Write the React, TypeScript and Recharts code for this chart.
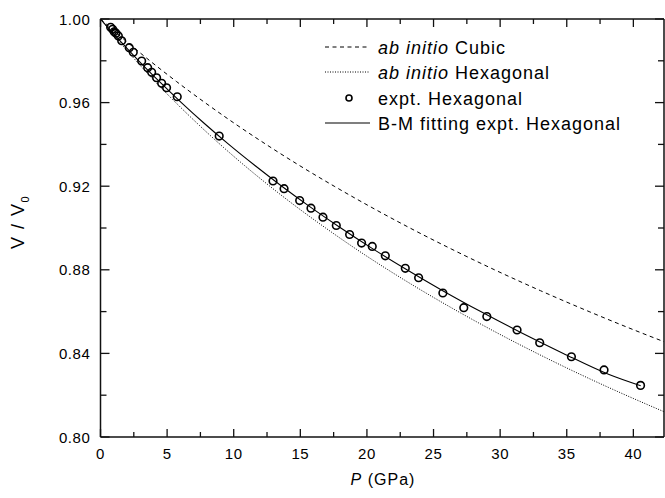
import React from "react";
import { ComposedChart, Line, XAxis, YAxis, ReferenceLine } from "recharts";

// ---- data (P in GPa, V/V0) ----
const cubicP = [0, 1.81, 3.71, 5.72, 7.84, 10.07, 12.43, 14.91, 17.54, 20.31, 23.23, 26.32, 29.58, 33.03, 36.68, 40.53, 42.3];
const cubicV = [1.0, 0.99, 0.98, 0.97, 0.96, 0.95, 0.94, 0.93, 0.92, 0.91, 0.9, 0.89, 0.88, 0.87, 0.86, 0.85, 0.8456];

const hexP = [0, 1.3, 2.67, 4.11, 5.65, 7.27, 8.98, 10.79, 12.71, 14.74, 16.9, 19.17, 21.58, 24.14, 26.85, 29.72, 32.77, 36.0, 39.44, 42.3];
const hexV = [1.0, 0.99, 0.98, 0.97, 0.96, 0.95, 0.94, 0.93, 0.92, 0.91, 0.9, 0.89, 0.88, 0.87, 0.86, 0.85, 0.84, 0.83, 0.82, 0.8121];

const exptP = [0.76, 0.91, 1.03, 1.16, 1.34, 1.59, 2.16, 2.46, 3.09, 3.54, 3.84, 4.21, 4.59, 4.96, 5.76, 8.91, 12.95, 13.78, 14.95, 15.8, 16.7, 17.7, 18.7, 19.6, 20.4, 21.38, 22.88, 23.88, 25.7, 27.27, 29.0, 31.27, 32.97, 35.35, 37.8, 40.54];
const exptV = [0.996, 0.9951, 0.9939, 0.9932, 0.9919, 0.9896, 0.9863, 0.9841, 0.9799, 0.9767, 0.9745, 0.9719, 0.9692, 0.9671, 0.9628, 0.944, 0.9225, 0.9188, 0.9131, 0.9095, 0.9052, 0.9012, 0.8969, 0.8928, 0.8912, 0.8867, 0.8807, 0.8762, 0.8689, 0.8619, 0.8576, 0.8512, 0.8451, 0.8384, 0.8321, 0.8247];

const fitP = [0, 1.4, 2.87, 4.43, 6.07, 7.8, 9.63, 11.57, 13.61, 15.76, 18.04, 20.45, 23.0, 25.69, 28.54, 31.55, 34.74, 38.13, 40.55];
const fitV = [1.0, 0.99, 0.98, 0.97, 0.96, 0.95, 0.94, 0.93, 0.92, 0.91, 0.9, 0.89, 0.88, 0.87, 0.86, 0.85, 0.84, 0.83, 0.8245];

const xTicks = [0, 2.5, 5, 7.5, 10, 12.5, 15, 17.5, 20, 22.5, 25, 27.5, 30, 32.5, 35, 37.5, 40];
const yTicks = [0.8, 0.82, 0.84, 0.86, 0.88, 0.9, 0.92, 0.94, 0.96, 0.98, 1.0];
const xDomain = [0, 42.3];
const yDomain = [0.8, 1.0];

const legendLabels = ["ab initio Cubic", "ab initio Hexagonal", "expt. Hexagonal", "B-M fitting expt. Hexagonal"];

const zip = (ps: number[], vs: number[]) => ps.map((p, i) => ({ p, v: vs[i] }));
const cubicData = zip(cubicP, cubicV);
const hexData = zip(hexP, hexV);
const exptData = zip(exptP, exptV);
const fitData = zip(fitP, fitV);

// inward tick lengths for the top / right edges, in data units
const PLOT_W = 563.5;
const PLOT_H = 418;
const xPerPx = (xDomain[1] - xDomain[0]) / PLOT_W;
const yPerPx = (yDomain[1] - yDomain[0]) / PLOT_H;

const FONT = "'Liberation Sans', Arial, Helvetica, sans-serif";
const INK = "#111111";
const isMajorX = (v: number) => Math.abs(v % 5) < 1e-6;
const isMajorY = (v: number) => Math.round(v * 100) % 4 === 0;
const TW = 1.3;

const BottomTick = (props: any) => {
  const { x, y, payload } = props;
  const major = isMajorX(payload.value);
  return (
    <g>
      <line x1={x} y1={y} x2={x} y2={y - (major ? 8 : 5)} stroke={INK} strokeWidth={TW} />
      {major && (
        <text x={x} y={y + 22} textAnchor="middle" fontFamily={FONT} fontSize={15} letterSpacing={0.6} fill="#000">
          {payload.value}
        </text>
      )}
    </g>
  );
};
const LeftTick = (props: any) => {
  const { x, y, payload } = props;
  const major = isMajorY(payload.value);
  return (
    <g>
      <line x1={x} y1={y} x2={x + (major ? 9 : 6)} y2={y} stroke={INK} strokeWidth={TW} />
      {major && (
        <text x={x - 10} y={y + 5.5} textAnchor="end" fontFamily={FONT} fontSize={15} letterSpacing={0.6} fill="#000">
          {payload.value.toFixed(2)}
        </text>
      )}
    </g>
  );
};

const CircleDot = (props: any) => {
  const { cx, cy } = props;
  if (cx == null || cy == null) return <g />;
  return <circle cx={cx} cy={cy} r={3.8} fill="none" stroke="#000" strokeWidth={1.6} />;
};

const LegendBox = () => {
  const rows = [17, 42, 68, 93];
  const textStyle = { fontFamily: FONT, fontSize: 18, letterSpacing: 1, fill: "#000" } as any;
  return (
    <svg width={320} height={110} style={{ overflow: "visible", display: "block" }}>
      <line x1={10} x2={55} y1={rows[0]} y2={rows[0]} stroke="#000" strokeWidth={1} strokeDasharray="4 3.5" />
      <text x={63} y={rows[0] + 6.5} {...textStyle}>
        <tspan fontStyle="italic">ab initio</tspan> Cubic
      </text>
      <line x1={10} x2={55} y1={rows[1]} y2={rows[1]} stroke="#000" strokeWidth={1} strokeDasharray="1 1.5" />
      <text x={63} y={rows[1] + 6.5} {...textStyle}>
        <tspan fontStyle="italic">ab initio</tspan> Hexagonal
      </text>
      <circle cx={34} cy={rows[2]} r={3} fill="none" stroke="#000" strokeWidth={1.6} />
      <text x={63} y={rows[2] + 6.5} {...textStyle}>
        {legendLabels[2]}
      </text>
      <line x1={10} x2={55} y1={rows[3]} y2={rows[3]} stroke="#000" strokeWidth={1.2} />
      <text x={63} y={rows[3] + 6.5} {...textStyle}>
        {legendLabels[3]}
      </text>
    </svg>
  );
};

const axisLineStyle = { stroke: INK, strokeWidth: 1.5 };

export default function App() {
  return (
    <div style={{ position: "relative", width: 665, height: 498, background: "#fff" }}>
      <style>{`body{margin:0;background:#fff}`}</style>
      <ComposedChart width={665} height={498} margin={{ top: 19, right: 1, bottom: 0, left: 0 }}>
        <XAxis xAxisId="b" type="number" dataKey="p" domain={xDomain} ticks={xTicks} height={61}
          tickSize={0} tickMargin={0} tickLine={false} tick={<BottomTick />} axisLine={axisLineStyle} stroke={INK} />
        <YAxis yAxisId="l" type="number" domain={yDomain} ticks={yTicks} width={100.5}
          tickSize={0} tickMargin={0} tickLine={false} tick={<LeftTick />} axisLine={axisLineStyle} stroke={INK} />
        <ReferenceLine xAxisId="b" yAxisId="l" y={yDomain[1]} stroke={INK} strokeWidth={1.5} />
        <ReferenceLine xAxisId="b" yAxisId="l" x={xDomain[1]} stroke={INK} strokeWidth={1.5} />
        {xTicks.map((p) => (
          <ReferenceLine key={"tt" + p} xAxisId="b" yAxisId="l" stroke={INK} strokeWidth={TW}
            segment={[{ x: p, y: yDomain[1] }, { x: p, y: yDomain[1] - (isMajorX(p) ? 8 : 5) * yPerPx }]} />
        ))}
        {yTicks.map((v) => (
          <ReferenceLine key={"rt" + v} xAxisId="b" yAxisId="l" stroke={INK} strokeWidth={TW}
            segment={[{ x: xDomain[1], y: v }, { x: xDomain[1] - (isMajorY(v) ? 9 : 6) * xPerPx, y: v }]} />
        ))}
        <Line xAxisId="b" yAxisId="l" data={cubicData} dataKey="v" type="monotone" stroke="#000" strokeWidth={1} strokeDasharray="4 3.5" dot={false} activeDot={false} isAnimationActive={false} name={legendLabels[0]} />
        <Line xAxisId="b" yAxisId="l" data={hexData} dataKey="v" type="monotone" stroke="#000" strokeWidth={1} strokeDasharray="1 1.5" dot={false} activeDot={false} isAnimationActive={false} name={legendLabels[1]} />
        <Line xAxisId="b" yAxisId="l" data={fitData} dataKey="v" type="monotone" stroke="#000" strokeWidth={1.1} dot={false} activeDot={false} isAnimationActive={false} name={legendLabels[3]} />
        <Line xAxisId="b" yAxisId="l" data={exptData} dataKey="v" stroke="none" dot={<CircleDot />} activeDot={false} isAnimationActive={false} name={legendLabels[2]} />
      </ComposedChart>
      <div style={{ position: "absolute", left: 315, top: 30 }}>
        <LegendBox />
      </div>
      <div style={{ position: "absolute", left: 383, top: 471.5, transform: "translateX(-50%)", fontFamily: FONT, fontSize: 16, lineHeight: "16px", letterSpacing: 1, whiteSpace: "nowrap", color: "#000" }}>
        <i>P</i> (GPa)
      </div>
      <div style={{ position: "absolute", left: 19, top: 222, transform: "translate(-50%, -50%) rotate(-90deg)", fontFamily: FONT, fontSize: 18, lineHeight: "18px", letterSpacing: 1.5, whiteSpace: "nowrap", color: "#000" }}>
        V / V<span style={{ fontSize: 11, position: "relative", top: 5 }}>0</span>
      </div>
    </div>
  );
}
